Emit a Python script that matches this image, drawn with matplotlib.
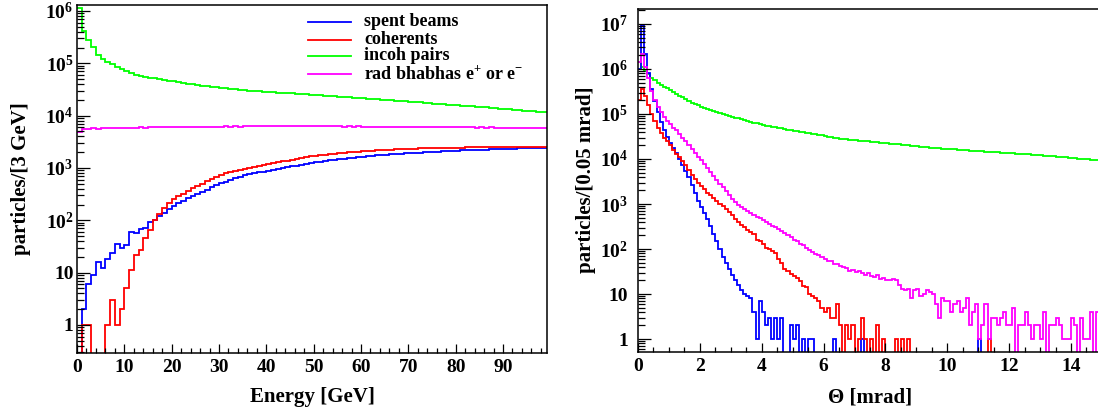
import numpy as np
import matplotlib
matplotlib.use("Agg")
import matplotlib.pyplot as plt
from matplotlib.ticker import FixedLocator, FuncFormatter, LogLocator, NullFormatter, MultipleLocator

plt.rcParams.update({
    "font.family": ["Liberation Serif", "DejaVu Serif"],
    "font.weight": "bold",
    "mathtext.fontset": "custom",
    "mathtext.rm": "Liberation Serif:bold",
    "mathtext.it": "Liberation Serif:bold:italic",
    "mathtext.bf": "Liberation Serif:bold",
})

# ---------------- data: energy spectra, 1 GeV bins from 0 to 100 GeV ----------------
energy_edges = np.arange(0.0, 101.0, 1.0)

energy_spent = [
    0, 2, 6, 9, 16, 12, 18, 24, 36, 30,
    33, 60, 56, 68, 72, 92, 102, 120, 138, 165,
    185, 210, 235, 262, 290, 318, 350, 385, 425, 465,
    505, 550, 595, 640, 680, 720, 760, 790, 820, 850,
    880, 915, 950, 990, 1030, 1070, 1110, 1160, 1200, 1240,
    1280, 1320, 1360, 1400, 1440, 1480, 1510, 1540, 1580, 1610,
    1640, 1670, 1700, 1730, 1760, 1790, 1820, 1850, 1870, 1900,
    1920, 1950, 1970, 2000, 2020, 2040, 2060, 2080, 2100, 2120,
    2140, 2160, 2180, 2200, 2210, 2230, 2250, 2260, 2280, 2300,
    2310, 2330, 2340, 2360, 2370, 2390, 2400, 2420, 2430, 2450,
]
energy_coherent = [
    0, 1, 1, 0, 0, 0, 1, 3, 1, 2,
    5, 11, 22, 27, 45, 66, 100, 130, 170, 215,
    250, 290, 320, 370, 415, 460, 500, 560, 620, 680,
    740, 790, 840, 880, 920, 960, 1000, 1050, 1090, 1130,
    1170, 1220, 1280, 1330, 1380, 1440, 1500, 1560, 1610, 1660,
    1700, 1740, 1780, 1820, 1860, 1900, 1940, 1980, 2010, 2050,
    2080, 2110, 2140, 2170, 2200, 2230, 2250, 2270, 2290, 2310,
    2330, 2350, 2360, 2380, 2390, 2400, 2410, 2420, 2430, 2440,
    2450, 2450, 2460, 2460, 2470, 2470, 2470, 2480, 2480, 2480,
    2490, 2490, 2490, 2490, 2500, 2500, 2500, 2500, 2500, 2500,
]
energy_incoh = [
    1.12e6, 4.17e5, 2.75e5, 2.09e5, 1.45e5, 1.23e5, 1.07e5, 9.55e4, 8.51e4, 7.76e4,
    7.08e4, 6.46e4, 6.03e4, 5.75e4, 5.50e4, 5.25e4, 5.13e4, 5.01e4, 4.90e4, 4.68e4,
    4.57e4, 4.37e4, 4.27e4, 4.07e4, 3.98e4, 3.80e4, 3.72e4, 3.63e4, 3.55e4, 3.47e4,
    3.39e4, 3.31e4, 3.24e4, 3.16e4, 3.09e4, 3.05e4, 3.02e4, 2.99e4, 2.95e4, 2.88e4,
    2.85e4, 2.82e4, 2.75e4, 2.72e4, 2.69e4, 2.66e4, 2.63e4, 2.57e4, 2.54e4, 2.51e4,
    2.48e4, 2.44e4, 2.40e4, 2.37e4, 2.33e4, 2.30e4, 2.27e4, 2.23e4, 2.20e4, 2.17e4,
    2.14e4, 2.11e4, 2.08e4, 2.05e4, 2.02e4, 1.99e4, 1.96e4, 1.93e4, 1.91e4, 1.87e4,
    1.85e4, 1.82e4, 1.79e4, 1.76e4, 1.73e4, 1.70e4, 1.67e4, 1.65e4, 1.62e4, 1.60e4,
    1.57e4, 1.55e4, 1.52e4, 1.50e4, 1.47e4, 1.45e4, 1.43e4, 1.40e4, 1.38e4, 1.36e4,
    1.34e4, 1.32e4, 1.29e4, 1.27e4, 1.25e4, 1.23e4, 1.21e4, 1.19e4, 1.17e4, 1.16e4,
]
energy_bhabha = [
    4800, 5600, 5650, 5700, 5600, 5750, 5700, 5800, 5750, 5850,
    5800, 5900, 5850, 5950, 5900, 5950, 6000, 5950, 6050, 6000,
    6050, 6000, 6100, 6050, 6100, 6050, 6150, 6100, 6150, 6100,
    6150, 6200, 6150, 6200, 6150, 6250, 6200, 6200, 6250, 6200,
    6250, 6200, 6300, 6250, 6250, 6200, 6300, 6250, 6200, 6250,
    6250, 6200, 6250, 6200, 6250, 6200, 6150, 6200, 6150, 6200,
    6150, 6150, 6100, 6150, 6100, 6150, 6100, 6050, 6100, 6050,
    6100, 6050, 6050, 6000, 6050, 6000, 6050, 6000, 5950, 6000,
    5950, 6000, 5950, 5950, 5900, 5950, 5900, 5950, 5900, 5900,
    5850, 5900, 5850, 5900, 5850, 5850, 5800, 5850, 5800, 5800,
]

# ---------------- data: polar angle spectra, 0.1 mrad bins from 0 to 15 mrad ----------------
theta_edges = np.linspace(0.0, 15.0, 151)

theta_spent = [
    1.0e6, 9.5e6, 2.2e6, 8.0e5, 3.6e5, 1.9e5, 1.1e5, 6.6e4, 4.4e4, 3.1e4,
    2.3e4, 1.75e4, 1.35e4, 1.0e4, 7.5e3, 5.4e3, 3.9e3, 2.7e3, 1.75e3, 1.15e3,
    860, 640, 470, 320, 215, 150, 100, 68, 50, 36,
    27, 20, 16, 12, 10, 9, 8, 4, 1, 7,
    4, 2, 3, 1, 3, 1, 3, 0, 0, 2,
    1, 2, 0, 1, 0, 1, 1, 0, 0, 0,
    0, 0, 0, 1, 0, 0, 0, 0, 0, 0,
    0, 0, 1, 0, 0, 0, 0, 0, 0, 0,
    0, 0, 0, 0, 0, 0, 0, 0, 0, 0,
    0, 0, 0, 0, 0, 0, 0, 0, 0, 0,
    0, 0, 0, 0, 0, 0, 0, 0, 0, 0,
    1, 0, 0, 0, 0, 0, 0, 0, 0, 0,
    0, 0, 0, 0, 0, 0, 0, 0, 0, 0,
    0, 0, 0, 0, 0, 0, 0, 0, 0, 0,
    0, 0, 0, 0, 0, 0, 0, 0, 0, 0,
]
theta_coherent = [
    2.0e5, 3.6e5, 2.5e5, 1.6e5, 1.0e5, 7.0e4, 5.0e4, 3.8e4, 3.0e4, 2.5e4,
    2.0e4, 1.6e4, 1.3e4, 1.1e4, 9.0e3, 7.3e3, 5.8e3, 4.5e3, 3.6e3, 3.0e3,
    2.5e3, 2.1e3, 1.8e3, 1.55e3, 1.35e3, 1.15e3, 1.0e3, 880, 760, 650,
    560, 470, 400, 350, 310, 270, 240, 215, 160, 150,
    130, 105, 98, 90, 82, 60, 48, 36, 32, 28,
    25, 23, 19, 15, 14, 10, 9, 8, 7, 5,
    4, 5, 3, 3, 6, 2, 0, 2, 1, 2,
    0, 1, 3, 1, 0, 1, 0, 2, 0, 1,
    0, 0, 0, 1, 0, 1, 0, 1, 0, 0,
    0, 0, 0, 0, 0, 0, 0, 0, 0, 0,
    0, 0, 0, 0, 0, 0, 0, 0, 0, 0,
    0, 0, 0, 1, 0, 0, 0, 0, 0, 0,
    0, 0, 0, 0, 0, 0, 0, 0, 0, 0,
    0, 0, 0, 0, 0, 0, 0, 0, 0, 0,
    0, 0, 0, 0, 0, 0, 0, 0, 0, 0,
]
theta_incoh = [
    1.41e6, 1.12e6, 9.12e5, 7.59e5, 6.46e5, 5.62e5, 4.90e5, 4.47e5, 4.07e5, 3.72e5,
    3.39e5, 3.09e5, 2.82e5, 2.57e5, 2.34e5, 2.14e5, 1.95e5, 1.78e5, 1.66e5, 1.55e5,
    1.45e5, 1.35e5, 1.26e5, 1.20e5, 1.15e5, 1.10e5, 1.05e5, 1.00e5, 9.55e4, 9.12e4,
    8.71e4, 8.32e4, 7.94e4, 7.59e4, 7.24e4, 7.08e4, 6.76e4, 6.46e4, 6.17e4, 5.89e4,
    5.75e4, 5.50e4, 5.37e4, 5.25e4, 5.01e4, 4.90e4, 4.79e4, 4.57e4, 4.47e4, 4.37e4,
    4.27e4, 4.15e4, 4.04e4, 3.93e4, 3.82e4, 3.72e4, 3.61e4, 3.52e4, 3.42e4, 3.33e4,
    3.24e4, 3.15e4, 3.06e4, 2.98e4, 2.90e4, 2.82e4, 2.77e4, 2.74e4, 2.69e4, 2.65e4,
    2.61e4, 2.57e4, 2.53e4, 2.49e4, 2.45e4, 2.42e4, 2.38e4, 2.34e4, 2.31e4, 2.27e4,
    2.24e4, 2.20e4, 2.17e4, 2.14e4, 2.10e4, 2.07e4, 2.04e4, 2.01e4, 1.98e4, 1.95e4,
    1.92e4, 1.89e4, 1.86e4, 1.83e4, 1.80e4, 1.77e4, 1.75e4, 1.72e4, 1.70e4, 1.68e4,
    1.66e4, 1.64e4, 1.63e4, 1.61e4, 1.59e4, 1.58e4, 1.56e4, 1.54e4, 1.53e4, 1.51e4,
    1.50e4, 1.48e4, 1.46e4, 1.45e4, 1.43e4, 1.42e4, 1.40e4, 1.39e4, 1.37e4, 1.36e4,
    1.34e4, 1.33e4, 1.32e4, 1.30e4, 1.29e4, 1.27e4, 1.26e4, 1.25e4, 1.24e4, 1.22e4,
    1.21e4, 1.19e4, 1.17e4, 1.16e4, 1.14e4, 1.12e4, 1.11e4, 1.09e4, 1.08e4, 1.07e4,
    1.05e4, 1.04e4, 1.02e4, 1.01e4, 9.95e3, 9.82e3, 9.68e3, 9.55e3, 9.42e3, 9.29e3,
]
theta_bhabha = [
    1.4e6, 2.1e6, 1.1e6, 6.3e5, 3.2e5, 2.0e5, 1.4e5, 1.1e5, 8.7e4, 7.1e4,
    5.9e4, 5.0e4, 4.3e4, 3.6e4, 3.0e4, 2.5e4, 2.0e4, 1.66e4, 1.38e4, 1.12e4,
    9.3e3, 7.6e3, 6.3e3, 5.1e3, 4.2e3, 3.5e3, 2.8e3, 2.35e3, 1.9e3, 1.58e3,
    1.26e3, 1.1e3, 955, 850, 760, 690, 630, 575, 525, 480,
    436, 398, 363, 331, 302, 275, 251, 224, 200, 182,
    162, 148, 132, 120, 107, 95, 87, 79, 72, 66,
    60, 55, 54, 47, 46, 41, 39, 38, 33, 35,
    31, 32, 29, 27, 30, 25, 24, 26, 22, 23,
    20, 21, 22, 20, 16, 13, 12, 13, 8, 12,
    13, 9, 10, 12, 11, 10, 6, 3, 8, 7,
    7, 4, 6, 7, 4, 5, 8, 2, 4, 6,
    1, 2, 6, 1, 3, 3, 2, 3, 4, 2,
    2, 5, 0, 2, 2, 4, 2, 1, 2, 2,
    1, 4, 0, 2, 2, 3, 2, 1, 1, 1,
    3, 2, 0, 3, 1, 1, 4, 0, 4, 3,
]

series_labels = ["spent beams", "coherents", "incoh pairs",
                 r"rad bhabhas e$^{+}$ or e$^{-}$"]
series_colors = ["#0000ff", "#ff0000", "#00ff00", "#ff00ff"]

energy_ticks = [0, 10, 20, 30, 40, 50, 60, 70, 80, 90]
theta_ticks = [0, 2, 4, 6, 8, 10, 12, 14]

# ---------------- figure ----------------
W, H = 1098, 415
fig = plt.figure(figsize=(W / 100, H / 100), dpi=100)


def px_axes(x0, y0, x1, y1):
    """Axes from pixel box (left, top, right, bottom)."""
    return fig.add_axes([x0 / W, 1 - y1 / H, (x1 - x0) / W, (y1 - y0) / H])


def decade_label(v, _pos):
    if v <= 1.5:
        return "1"
    if v <= 15:
        return "10"
    return r"$\mathregular{10^{%d}}$" % int(round(np.log10(v)))


def style_axes(ax, ypad):
    ax.set_yscale("log")
    ax.yaxis.set_major_locator(FixedLocator([10.0 ** k for k in range(0, 8)]))
    ax.yaxis.set_major_formatter(FuncFormatter(decade_label))
    ax.yaxis.set_minor_locator(LogLocator(base=10, subs=np.arange(2, 10), numticks=30))
    ax.yaxis.set_minor_formatter(NullFormatter())
    ax.tick_params(which="both", direction="in", top=False, right=False,
                   labelsize=14, width=0.9, color="black")
    ax.yaxis.set_tick_params(which="major", length=9.5, pad=ypad)
    ax.yaxis.set_tick_params(which="minor", length=5)
    ax.xaxis.set_tick_params(which="major", length=6.5, pad=4.5)
    ax.xaxis.set_tick_params(which="minor", length=3.5)
    for sp in ax.spines.values():
        sp.set_linewidth(1.1)
    for lab in ax.get_xticklabels() + ax.get_yticklabels():
        lab.set_fontweight("bold")


def draw_hist(ax, edges, counts, color, floor):
    vals = np.maximum(np.asarray(counts, dtype=float), floor)
    ax.stairs(vals, edges, color=color, lw=1.3, baseline=None)


# left panel: energy
ax1 = px_axes(77, 5, 547, 353)
draw_hist(ax1, energy_edges, energy_incoh, series_colors[2], 0.05)
draw_hist(ax1, energy_edges, energy_bhabha, series_colors[3], 0.05)
draw_hist(ax1, energy_edges, energy_spent, series_colors[0], 0.05)
draw_hist(ax1, energy_edges, energy_coherent, series_colors[1], 0.05)
ax1.set_xlim(0, 99.3)
style_axes(ax1, 2.5)
ax1.set_ylim(0.291, 1.30e6)
ax1.xaxis.set_major_locator(FixedLocator(energy_ticks))
ax1.xaxis.set_minor_locator(MultipleLocator(2))

# legend drawn inside the left panel
leg_rows = [22, 40, 56, 74]
for lab, col, yp in zip(series_labels, series_colors, leg_rows):
    ya = (353 - yp) / 348
    ax1.plot([(308 - 77) / 470, (351 - 77) / 470], [ya, ya], color=col, lw=1.3,
             transform=ax1.transAxes, clip_on=False)
    ax1.text((364 - 77) / 470, ya, lab, transform=ax1.transAxes, fontsize=13,
             fontweight="bold", ha="left", va="center")

# right panel: polar angle
ax2 = px_axes(638, 9, 1100, 352)
draw_hist(ax2, theta_edges, theta_incoh, series_colors[2], 0.1)
draw_hist(ax2, theta_edges, theta_spent, series_colors[0], 0.1)
draw_hist(ax2, theta_edges, theta_coherent, series_colors[1], 0.1)
draw_hist(ax2, theta_edges, theta_bhabha, series_colors[3], 0.1)
ax2.set_xlim(0, 462 / 30.93)
style_axes(ax2, 7)
ax2.set_ylim(0.515, 2.15e7)
ax2.xaxis.set_major_locator(FixedLocator(theta_ticks))
ax2.xaxis.set_minor_locator(MultipleLocator(0.5))

# axis titles
fig.text(312 / W, 1 - 397 / H, "Energy [GeV]", fontsize=15, fontweight="bold",
         ha="center", va="center")
fig.text(870 / W, 1 - 397 / H, "\u0398 [mrad]", fontsize=15, fontweight="bold",
         ha="center", va="center")
fig.text(21 / W, 1 - 179 / H, "particles/[3 GeV]", fontsize=15, fontweight="bold",
         ha="center", va="center", rotation=90)
fig.text(586 / W, 1 - 180 / H, "particles/[0.05 mrad]", fontsize=15, fontweight="bold",
         ha="center", va="center", rotation=90)

fig.savefig("out.png", dpi=100)
